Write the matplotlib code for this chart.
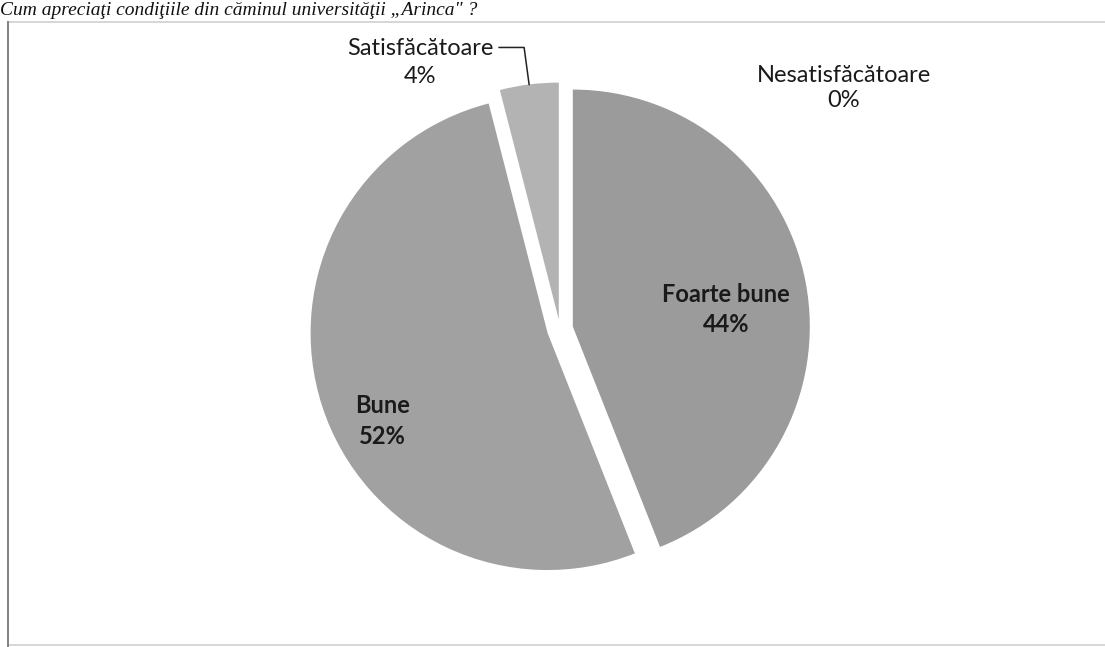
import numpy as np
import matplotlib
matplotlib.use("Agg")
import matplotlib.pyplot as plt
from matplotlib.patches import Rectangle

# data
categories = ["Foarte bune", "Bune", "Satisfăcătoare", "Nesatisfăcătoare"]
percents = [44, 52, 4, 0]
colors = ["#9b9b9b", "#a1a1a1", "#b3b3b3", "#c8c8c8"]
explode_frac = [0.055, 0.055, 0.04, 0.0]
bold = [True, True, False, False]
title = "Cum apreciaţi condiţiile din căminul universităţii „Arinca\" ?"

W, H = 1105, 647
R = 237
plt.rcParams['font.family'] = ['Lato', 'DejaVu Sans']

fig = plt.figure(figsize=(W / 100, H / 100), dpi=100)
ax = fig.add_axes([0, 0, 1, 1])

# scan frame (right side runs off the page)
ax.add_patch(Rectangle((8, 2), 1200, H - 24, fill=False, edgecolor="#cfcfcf", linewidth=1.2))
ax.plot([8, 8], [0, H - 22], color="#7a7a7a", linewidth=1.3)

# pie explode is in data units, so scale by the radius
wedges, _ = ax.pie(percents, colors=colors, explode=[e * R for e in explode_frac],
                   startangle=90, counterclock=False, radius=R, center=(560, 318),
                   wedgeprops=dict(linewidth=0))

ax.set_xlim(0, W)
ax.set_ylim(0, H)
ax.set_aspect('equal')
ax.axis('off')


def point_on(w, frac, dang=0.0):
    mid = np.deg2rad((w.theta1 + w.theta2) / 2 + dang)
    cx, cy = w.center
    return cx + frac * w.r * np.cos(mid), cy + frac * w.r * np.sin(mid)


labels = [f"{c}\n{p}%" for c, p in zip(categories, percents)]
fs = 17
ls = 1.4

# inside labels
for i, (frac, dang) in [(0, (0.65, -4.5)), (1, (0.79, 10))]:
    x, y = point_on(wedges[i], frac, dang)
    ax.text(x, y, labels[i], ha='center', va='center', fontsize=fs,
            fontweight='bold' if bold[i] else 'normal', color="#1a1a1a", linespacing=ls)

# Satisfăcătoare: outside with leader line
ex, ey = point_on(wedges[2], 1.0)
kx, ky = ex - 5, ey + 37
ax.plot([ex, kx, kx - 25], [ey, ky, ky], color="#222222", linewidth=1.1)
ax.text(kx - 104, ky - 15, labels[2], ha='center', va='center', fontsize=fs,
        color="#1a1a1a", linespacing=ls)

# Nesatisfăcătoare: zero slice, label only
nx, ny = wedges[3].center
ax.text(nx + 284, ny + 241, labels[3], ha='center', va='center', fontsize=fs,
        color="#1a1a1a", linespacing=1.25)

# title above the frame
ax.text(0, H - 15, title, ha='left', va='baseline', fontsize=14,
        family='Liberation Serif', style='italic', color="#111111")

fig.savefig("out.png", dpi=100)
